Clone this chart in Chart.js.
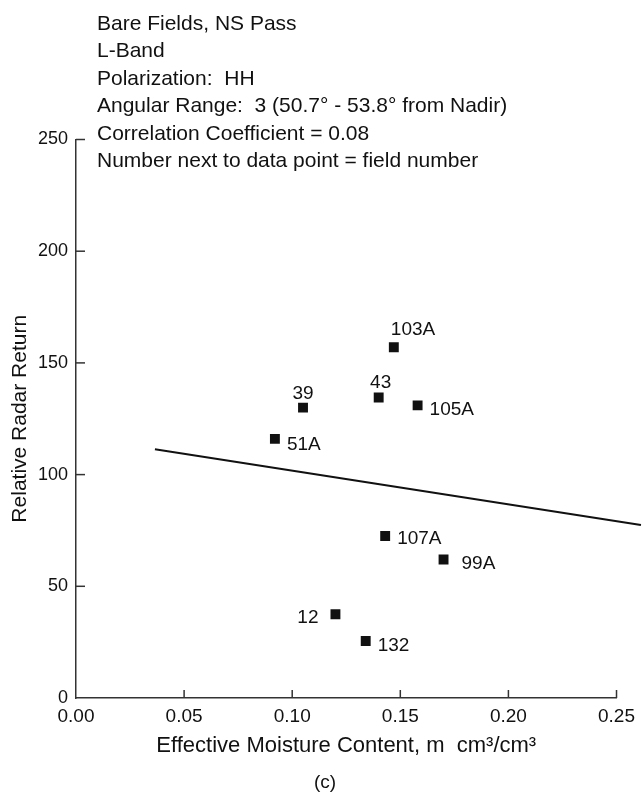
<!DOCTYPE html>
<html><head><meta charset="utf-8">
<script src="https://cdn.jsdelivr.net/npm/chart.js@4/dist/chart.umd.min.js"></script>
<style>html,body{margin:0;padding:0;background:#fff}</style>
</head><body>
<canvas id="c" width="642" height="792"></canvas>
<script>
const fieldNumbers = ['103A','43','39','105A','51A','107A','99A','12','132'];
const moisture    = [0.147, 0.140, 0.105, 0.158, 0.092, 0.143, 0.170, 0.120, 0.134];
const radarReturn = [157, 134.5, 130, 131, 116, 72.5, 62, 37.5, 25.5];
const regressionX = [0.0365, 0.2613];
const regressionY = [111.3, 77.4];
const xTicks = [0, 0.05, 0.10, 0.15, 0.20, 0.25];
const yTicks = [0, 50, 100, 150, 200, 250];
const headerLines = [
  'Bare Fields, NS Pass',
  'L-Band',
  'Polarization:  HH',
  'Angular Range:  3 (50.7° - 53.8° from Nadir)',
  'Correlation Coefficient = 0.08',
  'Number next to data point = field number'
];
const xTitle = 'Effective Moisture Content, m  cm³/cm³';
const yTitle = 'Relative Radar Return';
const panelLabel = '(c)';

const FONT = "'Liberation Sans', Arial, sans-serif";
const INK = '#111';

// label placement: [textAlign, dx, dy(baseline)]
const labelPlacement = {
  '103A': ['left', -3, -12],
  '43':   ['center', 2, -10],
  '39':   ['center', 0, -9],
  '105A': ['left', 12, 10],
  '51A':  ['left', 12, 11.5],
  '107A': ['left', 12, 7.5],
  '99A':  ['left', 18, 9.5],
  '12':   ['right', -17, 8.5],
  '132':  ['left', 12, 10]
};

const annotate = {
  id: 'annotate',
  afterDraw(chart) {
    const ctx = chart.ctx;
    const xs = chart.scales.x, ys = chart.scales.y;
    ctx.save();
    // inward tick marks
    ctx.strokeStyle = '#333';
    ctx.lineWidth = 1.5;
    const bottom = chart.chartArea.bottom, left = chart.chartArea.left;
    xTicks.forEach(v => {
      if (v === 0) return;
      const px = xs.getPixelForValue(v);
      ctx.beginPath(); ctx.moveTo(px, bottom); ctx.lineTo(px, bottom - 8); ctx.stroke();
    });
    yTicks.forEach(v => {
      if (v === 0) return;
      const py = ys.getPixelForValue(v);
      ctx.beginPath(); ctx.moveTo(left, py); ctx.lineTo(left + 9, py); ctx.stroke();
    });
    // header
    ctx.fillStyle = INK;
    ctx.font = '21px ' + FONT;
    ctx.textAlign = 'left';
    ctx.textBaseline = 'alphabetic';
    headerLines.forEach((t, i) => ctx.fillText(t, 97, 29.5 + i * 27.5));
    // point labels
    ctx.font = '19px ' + FONT;
    const meta = chart.getDatasetMeta(0);
    meta.data.forEach((pt, i) => {
      const name = fieldNumbers[i];
      const p = labelPlacement[name] || ['left', 12, 7];
      ctx.textAlign = p[0];
      ctx.fillText(name, pt.x + p[1], pt.y + p[2]);
    });
    // panel label
    ctx.font = '19px ' + FONT;
    ctx.textAlign = 'center';
    ctx.textBaseline = 'middle';
    ctx.fillText(panelLabel, 325, 783);
    ctx.restore();
  }
};

new Chart(document.getElementById('c'), {
  data: {
    datasets: [
      {
        type: 'scatter',
        label: 'Fields',
        data: moisture.map((m, i) => ({x: m, y: radarReturn[i]})),
        pointStyle: 'rect',
        pointRadius: 7,
        pointHoverRadius: 7,
        backgroundColor: INK,
        borderColor: INK,
        borderWidth: 0
      },
      {
        type: 'line',
        label: 'Regression',
        data: regressionX.map((x, i) => ({x: x, y: regressionY[i]})),
        borderColor: INK,
        borderWidth: 2,
        pointRadius: 0,
        fill: false,
        clip: false
      }
    ]
  },
  options: {
    responsive: false,
    animation: false,
    devicePixelRatio: 1,
    layout: { padding: { top: 139.5, right: 24.5, left: 0, bottom: 0 } },
    plugins: {
      legend: { display: false },
      tooltip: { enabled: false }
    },
    scales: {
      x: {
        type: 'linear', min: 0, max: 0.25,
        afterBuildTicks: s => { s.ticks = xTicks.map(v => ({value: v})); },
        afterFit: s => { s.height = 94; },
        grid: { drawOnChartArea: false, drawTicks: false },
        border: { display: true, color: '#333', width: 1.5 },
        ticks: {
          color: INK, padding: 7, autoSkip: false, maxRotation: 0,
          font: { family: FONT, size: 19 },
          callback: v => Number(v).toFixed(2)
        },
        title: {
          display: true, text: xTitle, color: INK,
          font: { family: FONT, size: 22 },
          padding: { top: 0, bottom: 33 }
        }
      },
      y: {
        type: 'linear', min: 0, max: 250,
        afterBuildTicks: s => { s.ticks = yTicks.map(v => ({value: v})); },
        afterFit: s => { s.width = 76; },
        grid: { drawOnChartArea: false, drawTicks: false },
        border: { display: true, color: '#333', width: 1.5 },
        ticks: {
          color: INK, padding: 8, autoSkip: false,
          font: { family: FONT, size: 18 }
        },
        title: {
          display: true, text: yTitle, color: INK,
          font: { family: FONT, size: 21 },
          padding: { top: 8, bottom: 0 }
        }
      }
    }
  },
  plugins: [annotate]
});
</script>
</body></html>
